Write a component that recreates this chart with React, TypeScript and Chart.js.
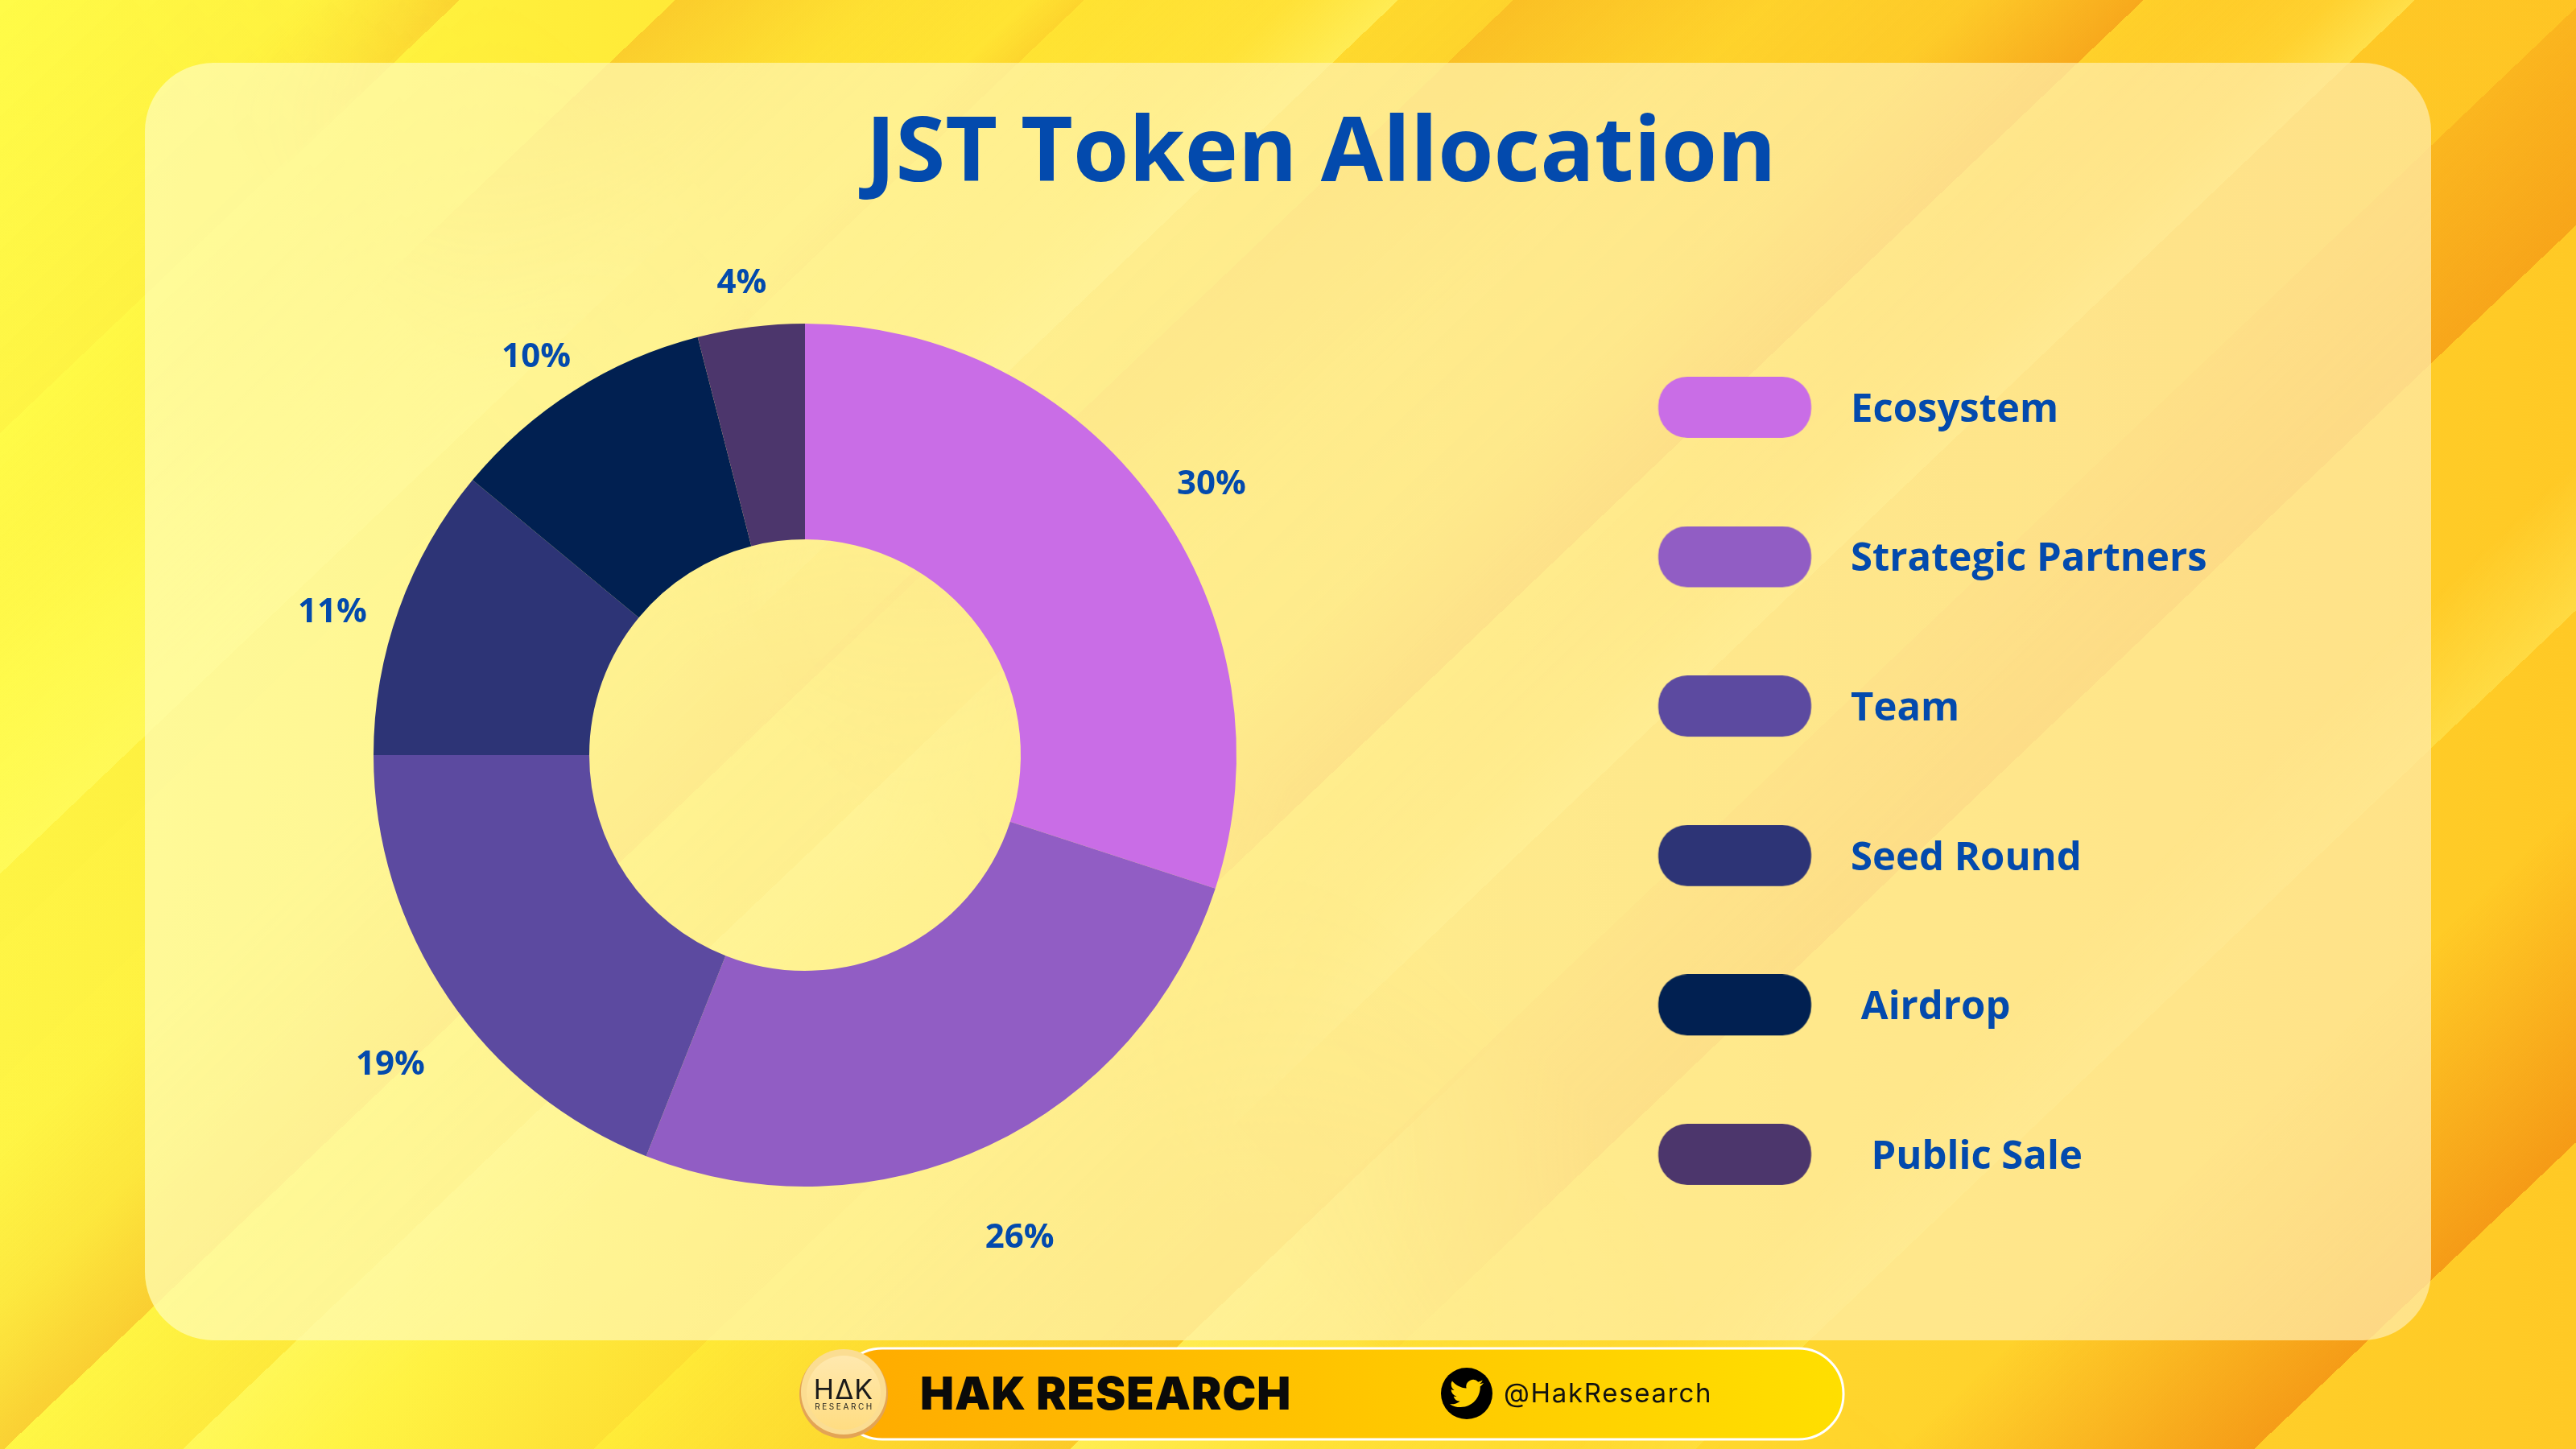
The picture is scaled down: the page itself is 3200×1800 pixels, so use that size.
import React, { useEffect, useRef } from "react";
import { Chart, registerables } from "chart.js";

Chart.register(...registerables);

const titleText = "JST Token Allocation";
const categories = ["Ecosystem", "Strategic Partners", "Team", "Seed Round", "Airdrop", "Public Sale"];
const shares = [30, 26, 19, 11, 10, 4];
const sliceColors = ["#C96DE6", "#915DC4", "#5C4AA0", "#2D3476", "#012051", "#4C366C"];
const legendLead = ["", "", "", "", " ", "  "];
// per-label nudge from the slice's middle: degrees, distance from centre in px
const labelNudgeDeg = [2.1, 1.2, -2.3, -2.8, -1.6, -0.5];
const labelDistance = [607, 653, 642, 615, 599, 594];

const INK = "#034AAD";
const W = 3200;
const H = 1800;
const SLOPE = 1.05; // diagonal band direction: u = x + SLOPE * y
const U_MAX = W + SLOPE * H;

type Stop = [number, string];
const S = (a: number) => `rgba(240,130,15,${a})`;
const L = (a: number) => `rgba(255,250,120,${a})`;

const baseStops: Stop[] = [
  [0, "#FFFB48"],
  [500, "#FFF23E"],
  [900, "#FFE836"],
  [1600, "#FFDF30"],
  [2500, "#FFD22C"],
  [3200, "#FFC925"],
];

// bands as they look along the top and right edges
const upperBandStops: Stop[] = [
  [0, S(0)],
  [380, S(0)],
  [571, S(0.3)],
  [571, S(0)],
  [839, S(0)],
  [839, S(0.28)],
  [1080, S(0.06)],
  [1280, S(0)],
  [1347, S(0.14)],
  [1347, L(0)],
  [1600, L(0.1)],
  [1737, L(0.5)],
  [1737, S(0.05)],
  [1880, S(0.08)],
  [1880, S(0.3)],
  [2200, S(0.05)],
  [2450, S(0.1)],
  [2663, S(0.5)],
  [2663, S(0)],
  [2900, L(0.1)],
  [3000, L(0.42)],
  [3000, S(0.05)],
  [3210, S(0.05)],
  [3210, S(0.28)],
  [3494, S(0.5)],
  [3494, S(0)],
  [3800, L(0)],
  [3996, L(0.35)],
  [3996, S(0)],
  [4250, S(0)],
  [4690, S(0.65)],
  [4690, S(0)],
  [5090, S(0)],
];

// the same bands along the left and bottom edges
const lowerBandStops: Stop[] = [
  [0, S(0)],
  [565, S(0.05)],
  [565, S(0)],
  [900, L(0.1)],
  [1140, L(0.35)],
  [1140, S(0.06)],
  [1500, S(0.05)],
  [1700, S(0.15)],
  [1895, S(0.35)],
  [1895, S(0.03)],
  [2117, S(0.1)],
  [2117, L(0.4)],
  [2300, L(0.1)],
  [2627, S(0.1)],
  [2627, S(0)],
  [3100, S(0.2)],
  [3219, S(0.25)],
  [3219, L(0.45)],
  [3500, L(0.1)],
  [3996, L(0)],
  [4219, S(0.05)],
  [4219, S(0.15)],
  [4400, S(0.25)],
  [4690, S(0.6)],
  [4690, S(0)],
  [5090, S(0)],
];

const BIRD =
  "M23.953 4.57a10 10 0 01-2.825.775 4.958 4.958 0 002.163-2.723c-.951.555-2.005.959-3.127 1.184a4.92 4.92 0 00-8.384 4.482C7.69 8.095 4.067 6.13 1.64 3.162a4.822 4.822 0 00-.666 2.475c0 1.71.87 3.213 2.188 4.096a4.904 4.904 0 01-2.228-.616v.06a4.923 4.923 0 003.946 4.827 4.996 4.996 0 01-2.212.085 4.936 4.936 0 004.604 3.417 9.867 9.867 0 01-6.102 2.105c-.39 0-.779-.023-1.17-.067a13.995 13.995 0 007.557 2.209c9.053 0 13.998-7.496 13.998-13.985 0-.21 0-.42-.015-.63A9.935 9.935 0 0024 4.59z";

const LEGEND_PAD = 136.6;
const LEGEND_BOX = 602;
const CENTER_X = 1000;
const RADIUS = 536;

function makePill(color: string): HTMLCanvasElement {
  const c = document.createElement("canvas");
  c.width = LEGEND_BOX;
  c.height = 84;
  const x = c.getContext("2d")!;
  const pillLeft = 2060 - (CENTER_X + RADIUS + LEGEND_PAD);
  x.fillStyle = color;
  x.beginPath();
  x.roundRect(pillLeft, 0, 190, 76, 36);
  x.fill();
  return c;
}

function panelPath(ctx: CanvasRenderingContext2D) {
  ctx.roundRect(180, 78, 2840, 1587, 85);
}

function bandLayer(stops: Stop[], maskFrom: number, maskTo: number): HTMLCanvasElement {
  const c = document.createElement("canvas");
  c.width = W;
  c.height = H;
  const x = c.getContext("2d")!;
  const k = U_MAX / (1 + SLOPE * SLOPE);
  const g = x.createLinearGradient(0, 0, k, k * SLOPE);
  stops.forEach(([u, col]) => g.addColorStop(u / U_MAX, col));
  x.fillStyle = g;
  x.fillRect(0, 0, W, H);
  // mask across the bands' length: v = SLOPE * x - y
  const n = 1 + SLOPE * SLOPE;
  const m = x.createLinearGradient(
    (maskFrom * SLOPE) / n,
    -maskFrom / n,
    (maskTo * SLOPE) / n,
    -maskTo / n,
  );
  m.addColorStop(0, "rgba(0,0,0,0)");
  m.addColorStop(1, "rgba(0,0,0,1)");
  x.globalCompositeOperation = "destination-in";
  x.fillStyle = m;
  x.fillRect(0, 0, W, H);
  return c;
}

const backgroundPlugin = {
  id: "pageBackground",
  beforeDraw(chart: any) {
    const ctx: CanvasRenderingContext2D = chart.ctx;
    ctx.save();
    const base = ctx.createLinearGradient(0, 0, W, 0);
    baseStops.forEach(([p, c]) => base.addColorStop(p / W, c));
    ctx.fillStyle = base;
    ctx.fillRect(0, 0, W, H);
    const upper = bandLayer(upperBandStops, 100, 700);
    const lower = bandLayer(lowerBandStops, 700, 100);
    // full strength outside the panel
    ctx.save();
    ctx.beginPath();
    ctx.rect(0, 0, W, H);
    panelPath(ctx);
    ctx.clip("evenodd");
    ctx.drawImage(upper, 0, 0);
    ctx.drawImage(lower, 0, 0);
    ctx.restore();
    // much softer under the panel
    ctx.save();
    ctx.beginPath();
    panelPath(ctx);
    ctx.clip();
    ctx.globalAlpha = 0.4;
    ctx.drawImage(upper, 0, 0);
    ctx.drawImage(lower, 0, 0);
    ctx.restore();
    ctx.fillStyle = "rgba(255,255,255,0.45)";
    ctx.beginPath();
    panelPath(ctx);
    ctx.fill();
    ctx.restore();
  },
};

const placeTitlePlugin = {
  id: "placeTitle",
  afterLayout(chart: any) {
    const t = chart.titleBlock;
    if (!t) return;
    const d = 1641 - (t.left + t.right) / 2;
    t.left += d;
    t.right += d;
  },
};

const sliceLabelPlugin = {
  id: "sliceLabels",
  afterDatasetsDraw(chart: any) {
    const ctx: CanvasRenderingContext2D = chart.ctx;
    const meta = chart.getDatasetMeta(0);
    ctx.save();
    ctx.font = 'bold 42px "Open Sans"';
    ctx.fillStyle = INK;
    ctx.textAlign = "center";
    ctx.textBaseline = "middle";
    meta.data.forEach((arc: any, i: number) => {
      const { x, y, startAngle, endAngle } = arc.getProps(["x", "y", "startAngle", "endAngle"], true);
      const a = (startAngle + endAngle) / 2 + (labelNudgeDeg[i] * Math.PI) / 180;
      ctx.fillText(`${shares[i]}%`, x + 1 + Math.cos(a) * labelDistance[i], y + 3 + Math.sin(a) * labelDistance[i]);
    });
    ctx.restore();
  },
};

const footerPlugin = {
  id: "footerBar",
  afterDraw(chart: any) {
    const ctx: CanvasRenderingContext2D = chart.ctx;
    ctx.save();
    // bar
    const g = ctx.createLinearGradient(1050, 0, 2290, 0);
    g.addColorStop(0, "#FFAB00");
    g.addColorStop(1, "#FFDF00");
    ctx.fillStyle = g;
    ctx.lineWidth = 3;
    ctx.beginPath();
    ctx.roundRect(1040, 1675, 1250, 113, 56);
    ctx.fill();
    ctx.strokeStyle = "#FFFFFF";
    ctx.stroke();
    // coin
    ctx.fillStyle = "#E3A455";
    ctx.beginPath();
    ctx.arc(1048, 1732, 55, 0, Math.PI * 2);
    ctx.fill();
    ctx.fillStyle = "#FBDD92";
    ctx.beginPath();
    ctx.arc(1048, 1729, 53, 0, Math.PI * 2);
    ctx.fill();
    const inner = ctx.createLinearGradient(0, 1680, 0, 1780);
    inner.addColorStop(0, "#FFE9B0");
    inner.addColorStop(1, "#FFDC80");
    ctx.fillStyle = inner;
    ctx.beginPath();
    ctx.arc(1048, 1730, 46, 0, Math.PI * 2);
    ctx.fill();
    ctx.fillStyle = "#1A1A1A";
    ctx.textAlign = "center";
    ctx.textBaseline = "alphabetic";
    ctx.font = '400 34px "Inter"';
    (ctx as any).letterSpacing = "1px";
    ctx.fillText("HΔK", 1048, 1738);
    ctx.font = '400 10px "Inter"';
    (ctx as any).letterSpacing = "2.6px";
    ctx.fillText("RESEARCH", 1049, 1751);
    // brand
    ctx.textAlign = "left";
    ctx.fillStyle = "#0A0A0A";
    ctx.font = '900 56px "Inter"';
    (ctx as any).letterSpacing = "1px";
    ctx.fillText("HAK RESEARCH", 1143, 1751);
    // handle
    ctx.fillStyle = "#000000";
    ctx.beginPath();
    ctx.arc(1822, 1731, 32, 0, Math.PI * 2);
    ctx.fill();
    ctx.save();
    ctx.translate(1801, 1710);
    ctx.scale(42 / 24, 42 / 24);
    ctx.fillStyle = "#FFD000";
    ctx.fill(new Path2D(BIRD));
    ctx.restore();
    ctx.fillStyle = "#111111";
    ctx.font = '400 33px "Inter"';
    (ctx as any).letterSpacing = "1.7px";
    ctx.fillText("@HakResearch", 1868, 1742);
    ctx.restore();
  },
};

export default function App() {
  const ref = useRef<HTMLCanvasElement>(null);
  useEffect(() => {
    document.body.style.margin = "0";
    const pills = sliceColors.map(makePill);
    const chart: any = new Chart(ref.current!, {
      type: "doughnut",
      data: {
        labels: categories,
        datasets: [{ data: shares, backgroundColor: sliceColors, borderWidth: 0, hoverOffset: 0 }],
      },
      plugins: [backgroundPlugin, placeTitlePlugin, sliceLabelPlugin, footerPlugin],
      options: {
        responsive: false,
        animation: false,
        devicePixelRatio: 1,
        cutout: "50%",
        layout: { padding: { left: CENTER_X - RADIUS, right: 398, top: 0, bottom: 201 } },
        plugins: {
          tooltip: { enabled: false },
          title: {
            display: true,
            text: titleText,
            color: INK,
            font: { family: '"Open Sans"', size: 112, weight: "bold", lineHeight: 1.2 },
            padding: { top: 126, bottom: 16.6 },
          },
          legend: {
            display: true,
            position: "right",
            align: "end",
            fullSize: false,
            maxWidth: 1500,
            labels: {
              usePointStyle: true,
              pointStyleWidth: LEGEND_BOX,
              padding: LEGEND_PAD,
              color: INK,
              font: { family: '"Open Sans"', size: 49, weight: "bold", lineHeight: 1 },
              generateLabels: () =>
                categories.map((c, i) => ({
                  text: legendLead[i] + c,
                  fontColor: INK,
                  fillStyle: sliceColors[i],
                  strokeStyle: sliceColors[i],
                  lineWidth: 0,
                  hidden: false,
                  index: i,
                  pointStyle: pills[i],
                })),
            },
          },
        },
      },
    } as any);
    chart.options.layout.padding.right = W - (CENTER_X + RADIUS) - chart.legend.width;
    chart.update();
    return () => chart.destroy();
  }, []);
  return <canvas ref={ref} width={W} height={H} style={{ display: "block", width: W, height: H }} />;
}
